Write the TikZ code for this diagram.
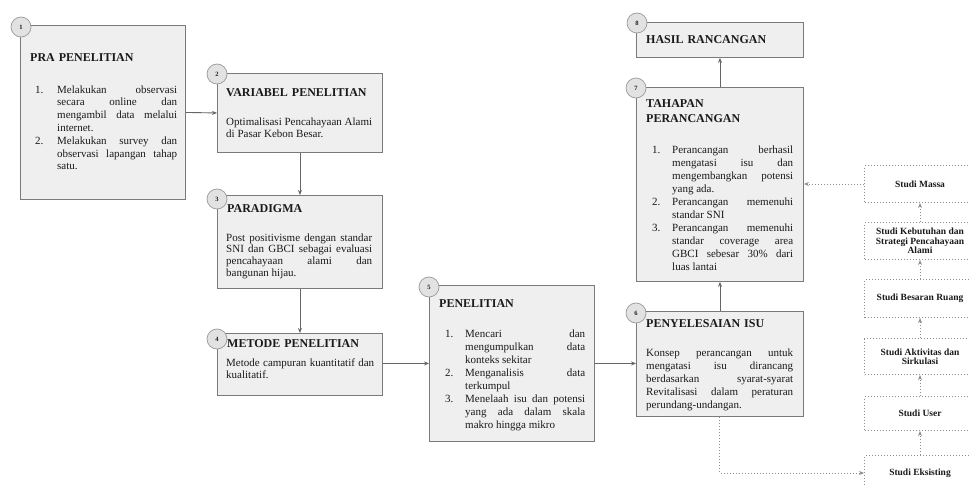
\documentclass[tikz,border=0pt]{standalone}
\usepackage{fontspec}
\setmainfont{Liberation Serif}
\usetikzlibrary{arrows.meta}
\hbadness=10000 \vbadness=10000 \hfuzz=5pt
\definecolor{boxfill}{HTML}{EFEFEF}
\definecolor{boxline}{HTML}{7A7A7A}
\definecolor{numfill}{HTML}{E2E2E2}
\definecolor{numline}{HTML}{9A9A9A}
\definecolor{arrowc}{HTML}{666666}
\definecolor{dotc}{HTML}{8E8E8E}
\definecolor{txt}{HTML}{1A1A1A}
\newlength{\itmw}\setlength{\itmw}{20pt}
\newcommand{\itm}[2]{\noindent\hangindent=\itmw\hangafter=1\makebox[\itmw][l]{#1}#2\par}
\begin{document}
\begin{tikzpicture}[x=1pt,y=-1pt,
  box/.style={draw=boxline, fill=boxfill, line width=0.9pt, anchor=north west, inner sep=0pt},
  num/.style={circle, draw=numline, fill=numfill, line width=0.7pt, minimum size=20pt, inner sep=0pt, font=\fontsize{6.5}{7}\selectfont\bfseries, text=txt},
  ttl/.style={anchor=base west, inner sep=0pt, text width=160pt, align=left, text=txt, font=\fontsize{12}{15}\selectfont\bfseries},
  body/.style={anchor=base west, inner sep=0pt, align=justify, text=txt, font=\fontsize{11}{12.3}\selectfont},
  arr/.style={draw=arrowc, line width=0.9pt, -{Stealth[length=5pt,width=4pt]}},
  dotarr/.style={draw=dotc, line width=1pt, dash pattern=on 1pt off 2pt, -{Stealth[length=5pt,width=4pt]}},
  studi/.style={draw=dotc, line width=1pt, dash pattern=on 1pt off 2pt, anchor=north west, inner sep=0pt, minimum width=111pt, align=center, text=txt, font=\fontsize{9.5}{9.4}\selectfont\bfseries}
]
\useasboundingbox (0,0) rectangle (969,487);
\fill[white] (0,0) rectangle (969,487);
\clip (0,0) rectangle (969,487);

% main boxes
\node[box, minimum width=165pt, minimum height=174pt] (b1) at (20,25) {};
\node[box, minimum width=165pt, minimum height=79pt] (b2) at (217,73) {};
\node[box, minimum width=165pt, minimum height=93pt] (b3) at (217,195) {};
\node[box, minimum width=165pt, minimum height=62pt] (b4) at (217,333) {};
\node[box, minimum width=165pt, minimum height=156pt] (b5) at (429,285) {};
\node[box, minimum width=167pt, minimum height=105pt] (b6) at (636,311) {};
\node[box, minimum width=167pt, minimum height=194pt] (b7) at (636,87) {};
\node[box, minimum width=167pt, minimum height=35pt] (b8) at (636,22) {};

% number circles
\node[num] (c1) at (21,27) {1};
\node[num] (c2) at (217,74) {2};
\node[num] (c3) at (217,199) {3};
\node[num] (c4) at (217,339) {4};
\node[num] (c5) at (429,287) {5};
\node[num] (c6) at (636,313) {6};
\node[num] (c7) at (636,88) {7};
\node[num] (c8) at (637,23) {8};

% titles
\node[ttl] (t1) at (30,62) {PRA PENELITIAN};
\node[ttl] (t2) at (226,96) {VARIABEL PENELITIAN};
\node[ttl] (t3) at (227,212) {PARADIGMA};
\node[ttl] (t4) at (227,347) {METODE PENELITIAN};
\node[ttl] (t5) at (439,307) {PENELITIAN};
\node[ttl] (t6) at (646,327) {PENYELESAIAN ISU};
\node[ttl] (t7) at (646,107) {TAHAPAN\\PERANCANGAN};
\node[ttl] (t8) at (646,44) {HASIL RANCANGAN};

% bodies
\node[body, text width=142pt, font=\fontsize{11}{12.8}\selectfont] (x1) at (35,93) {%
\setlength{\itmw}{22pt}%
\itm{1.}{Melakukan observasi\linebreak secara online dan\linebreak mengambil data melalui\linebreak internet.}%
\itm{2.}{Melakukan survey dan\linebreak observasi lapangan tahap\linebreak satu.}};
\node[body, text width=146pt] (x2) at (226,125) {Optimalisasi Pencahayaan Alami\linebreak di Pasar Kebon Besar.};
\node[body, text width=146pt, font=\fontsize{11}{11.9}\selectfont] (x3) at (226,241) {Post positivisme dengan standar\linebreak SNI dan GBCI sebagai evaluasi\linebreak pencahayaan alami dan\linebreak bangunan hijau.};
\node[body, text width=148pt] (x4) at (226,366) {Metode campuran kuantitatif dan\linebreak kualitatif.};
\node[body, text width=140pt, font=\fontsize{11}{13}\selectfont] (x5) at (445,337) {%
\itm{1.}{Mencari dan\linebreak mengumpulkan data\linebreak konteks sekitar}%
\itm{2.}{Menganalisis data\linebreak terkumpul}%
\itm{3.}{Menelaah isu dan potensi\linebreak yang ada dalam skala\linebreak makro hingga mikro}};
\node[body, text width=147pt, font=\fontsize{11}{13.2}\selectfont] (x6) at (646,356) {Konsep perancangan untuk\linebreak mengatasi isu dirancang\linebreak berdasarkan syarat-syarat\linebreak Revitalisasi dalam peraturan\linebreak perundang-undangan.};
\node[body, text width=141pt, font=\fontsize{11}{13}\selectfont] (x7) at (652,153) {%
\itm{1.}{Perancangan berhasil\linebreak mengatasi isu dan\linebreak mengembangkan potensi\linebreak yang ada.}%
\itm{2.}{Perancangan memenuhi\linebreak standar SNI}%
\itm{3.}{Perancangan memenuhi\linebreak standar coverage area\linebreak GBCI sebesar 30\% dari\linebreak luas lantai}};

% studi boxes
\node[studi, minimum height=37pt] (sm) at (864,165) {Studi Massa};
\node[studi, minimum height=37pt] (sk) at (864,222) {Studi Kebutuhan dan\\Strategi Pencahayaan\\Alami};
\node[studi, minimum height=38pt] (sb) at (864,279) {Studi Besaran Ruang};
\node[studi, minimum height=36pt] (sa) at (864,338) {Studi Aktivitas dan\\Sirkulasi};
\node[studi, minimum height=34pt] (su) at (864,396) {Studi User};
\node[studi, minimum height=35pt] (se) at (864,455) {Studi Eksisting};

% solid connectors
\draw[arr] (b1.east) -- (b2.west);
\draw[arr] (b2.south) -- (b3.north);
\draw[arr] (b3.south) -- (b4.north);
\draw[arr] (b4.east |- b5.west) -- (b5.west);
\draw[arr] (b5.east) -- (b5.east -| b6.west);
\draw[arr] (b6.north) -- (b7.south);
\draw[arr] (b7.north) -- (b8.south);

% dotted connectors
\draw[dotarr] (b6.south) -- (b6.south |- se.west) -- (se.west);
\draw[dotarr] (se.north) -- (su.south);
\draw[dotarr] (su.north) -- (sa.south);
\draw[dotarr] (sa.north) -- (sb.south);
\draw[dotarr] (sb.north) -- (sk.south);
\draw[dotarr] (sk.north) -- (sm.south);
\draw[dotarr] (sm.west) -- (sm.west -| b7.east);
\end{tikzpicture}
\end{document}
